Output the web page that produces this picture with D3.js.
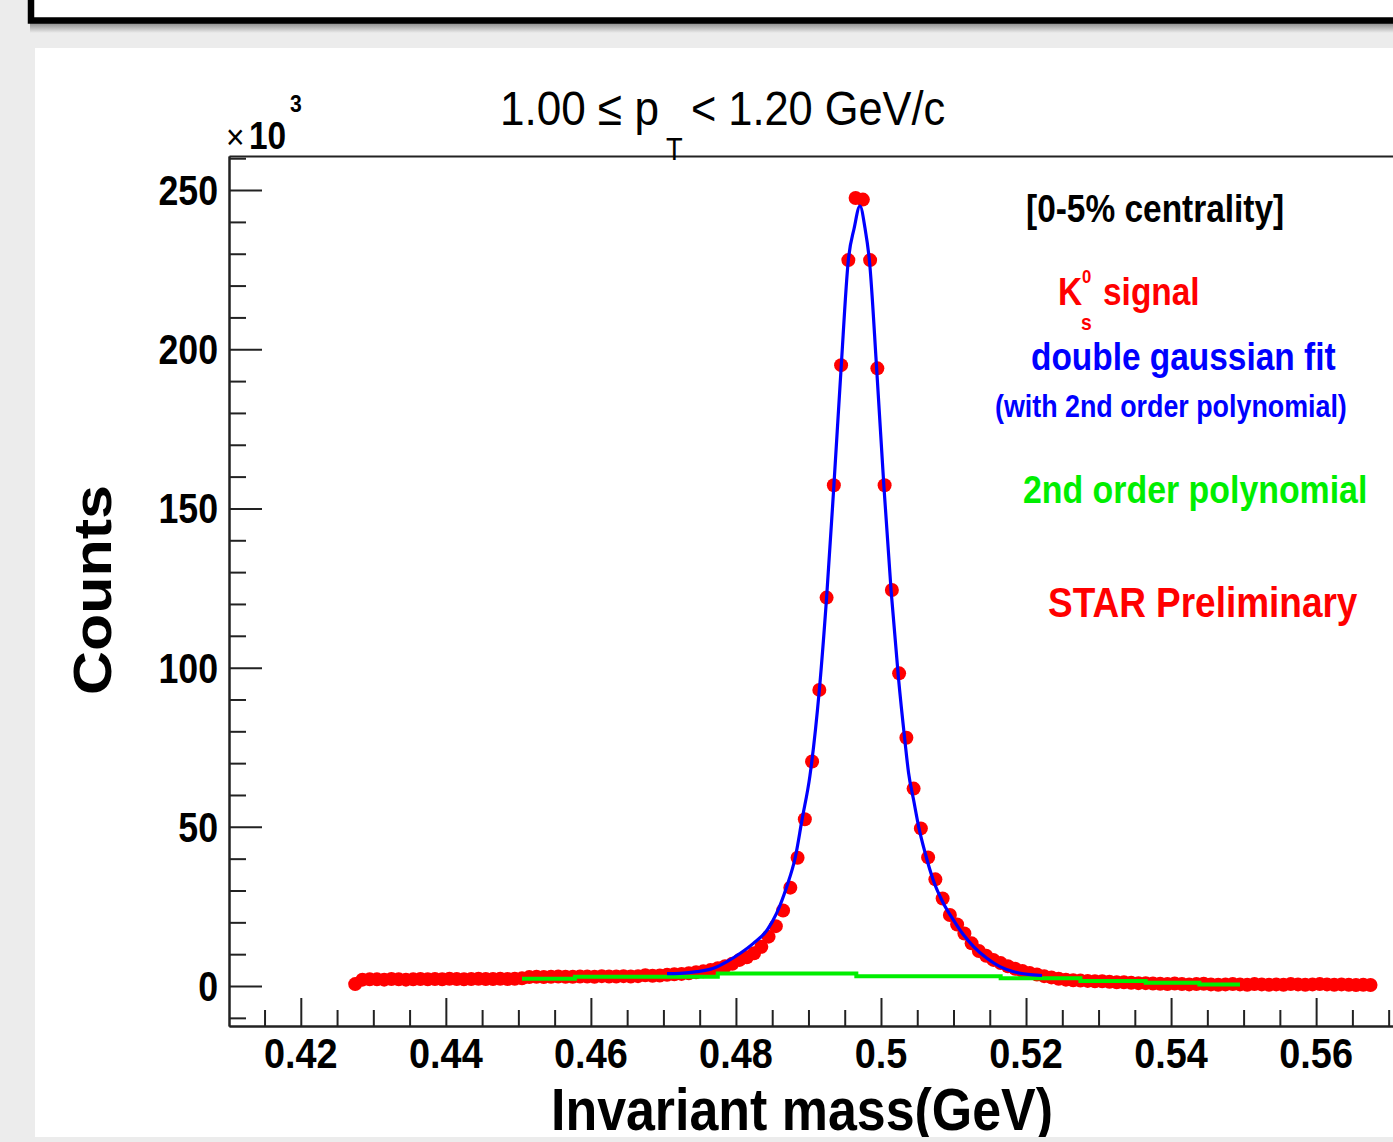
<!DOCTYPE html>
<html><head><meta charset="utf-8">
<script src="https://cdn.jsdelivr.net/npm/d3@7"></script>
<style>html,body{margin:0;padding:0;background:#ececec;overflow:hidden}</style>
</head><body>
<svg id="c" width="1393" height="1142"></svg>
<script>
// ---------------- data (counts in units of 10^3) ----------------
const binStart = 0.4275;   // centre of first histogram bin (GeV)
const binWidth = 0.001;    // GeV
const counts = [
  0.6,
  2.0, 2.1, 2.1, 2.0, 2.2, 2.1, 2.0, 2.1, 2.2, 2.1, 2.2, 2.1, 2.3, 2.2, 2.1, 2.2, 2.3, 2.2, 2.2, 2.3, 2.2, 2.3, 2.4,
  2.8, 2.9, 2.8, 2.9, 3.0, 2.9, 2.9, 3.0, 3.0, 2.9, 3.1, 3.0, 3.0, 3.1, 3.0, 3.1, 3.4, 3.2, 3.3,
  3.5, 3.7, 3.8, 4.0, 4.3, 4.6, 5.0, 5.6, 6.2, 7.0, 8.2, 9.0, 10.3, 12.3, 15.5, 18.8, 23.7, 30.9, 40.3, 52.4,
  70.5, 93.0, 122.0, 157.3, 195.0, 228.0, 247.5, 247.0, 228.0, 194.0, 157.3, 124.4, 98.2, 78.0, 62.0, 49.5,
  40.4, 33.5, 27.5, 22.3, 19.3, 16.5, 13.4, 11.0, 9.5, 8.2, 7.2, 6.2, 5.4, 4.7, 4.1, 3.6, 3.1, 2.7, 2.3,
  2.0, 1.8, 1.7,
  1.6, 1.5, 1.5, 1.3, 1.2, 1.2, 1.0, 0.9, 0.9, 0.8,
  0.7, 0.6, 0.8, 0.6, 0.5, 0.6, 0.7, 0.5, 0.4, 0.5, 0.6, 0.5, 0.4, 0.6, 0.5, 0.4, 0.5, 0.4, 0.6, 0.5,
  0.4, 0.5, 0.6, 0.5, 0.4, 0.5, 0.4, 0.3, 0.4, 0.3
];
// double gaussian fit
const fitMass = [0.4705, 0.4723, 0.4746, 0.4769, 0.4787, 0.4806, 0.4824, 0.4843, 0.4856, 0.4870, 0.4882, 0.4891,
  0.4902, 0.4915, 0.4925, 0.4935, 0.4945, 0.4955, 0.4963, 0.4971, 0.4978, 0.4984, 0.4994, 0.5004, 0.5014,
  0.5024, 0.5033, 0.5038, 0.5045, 0.5052, 0.5061, 0.5072, 0.5086, 0.5100, 0.5114, 0.5128, 0.5146, 0.5164,
  0.5183, 0.5210, 0.5222];
const fitCounts = [3.9, 4.0, 4.5, 5.6, 7.6, 10.3, 13.4, 17.6, 22.8, 31.2, 40.6, 52.1,
  66.0, 93.0, 122.0, 157.0, 194.0, 228.0, 238.0, 245.0, 238.0, 228.0, 194.0, 157.0, 124.0,
  97.0, 77.0, 67.0, 58.4, 50.0, 41.7, 33.3, 26.0, 20.7, 16.0, 12.3, 8.7, 6.1,
  4.5, 3.5, 3.3];
// 2nd order polynomial background (as drawn, pixel-stepped)
const bkgMass = [0.4505, 0.4578, 0.4775, 0.4966, 0.5165, 0.5275, 0.5365, 0.5439, 0.5495];
const bkgCounts = [2.3, 2.9, 3.9, 3.1, 2.4, 1.6, 1.0, 0.5, 0.5];

const xMajorTicks = [0.42, 0.44, 0.46, 0.48, 0.50, 0.52, 0.54, 0.56];
const xTickLabels = ["0.42", "0.44", "0.46", "0.48", "0.5", "0.52", "0.54", "0.56"];
const xMinorTicks = [0.415, 0.425, 0.43, 0.435, 0.445, 0.45, 0.455, 0.465, 0.47, 0.475, 0.485, 0.49, 0.495,
  0.505, 0.51, 0.515, 0.525, 0.53, 0.535, 0.545, 0.55, 0.555, 0.565, 0.57];
const yMajorTicks = [0, 50, 100, 150, 200, 250];
const yTickLabels = ["0", "50", "100", "150", "200", "250"];
const yMinorTicks = [-10, 10, 20, 30, 40, 60, 70, 80, 90, 110, 120, 130, 140, 160, 170, 180, 190,
  210, 220, 230, 240, 260];

// ---------------- drawing ----------------
const svg = d3.select("#c");
const SX = 0.88; // horizontal squeeze of glyphs in the original picture
const FONT = "'Liberation Sans', Arial, Helvetica, sans-serif";

// background & panels
svg.append("rect").attr("x", 0).attr("y", 0).attr("width", 1393).attr("height", 1142).attr("fill", "#ececec");
const defs = svg.append("defs");
const grad = defs.append("linearGradient").attr("id", "shadow").attr("x1", 0).attr("y1", 0).attr("x2", 0).attr("y2", 1);
grad.append("stop").attr("offset", "0%").attr("stop-color", "#8c8c8c");
grad.append("stop").attr("offset", "100%").attr("stop-color", "#ececec");
svg.append("rect").attr("x", 30).attr("y", 23).attr("width", 1370).attr("height", 10).attr("fill", "url(#shadow)");
svg.append("rect").attr("x", 31).attr("y", -20).attr("width", 1400).attr("height", 40.5)
  .attr("fill", "#ffffff").attr("stroke", "#000").attr("stroke-width", 6.5);
svg.append("rect").attr("x", 35).attr("y", 48).attr("width", 1400).attr("height", 1089).attr("fill", "#ffffff");

const x = d3.scaleLinear().domain([0.4101, 0.5706]).range([229, 1393]);
const y = d3.scaleLinear().domain([-12.56, 260.7]).range([1026, 156]);

function styleAxis(g) {
  g.selectAll("path,line").attr("stroke", "#222").attr("stroke-width", 2);
  g.selectAll("text").remove();
}
// x axis
svg.append("g").attr("transform", "translate(0,1026)")
  .call(d3.axisBottom(x).tickValues(xMinorTicks).tickSize(-16).tickSizeOuter(0).tickFormat(""))
  .call(styleAxis);
svg.append("g").attr("transform", "translate(0,1026)")
  .call(d3.axisBottom(x).tickValues(xMajorTicks).tickSize(-28).tickSizeOuter(0).tickFormat(""))
  .call(styleAxis);
// top frame line
svg.append("g").attr("transform", "translate(0,156)")
  .call(d3.axisTop(x).tickValues([]).tickSizeOuter(0))
  .call(styleAxis);
// y axis
svg.append("g").attr("transform", "translate(229,0)")
  .call(d3.axisLeft(y).tickValues(yMinorTicks).tickSize(-17).tickSizeOuter(0).tickFormat(""))
  .call(styleAxis);
svg.append("g").attr("transform", "translate(229,0)")
  .call(d3.axisLeft(y).tickValues(yMajorTicks).tickSize(-33).tickSizeOuter(0).tickFormat(""))
  .call(styleAxis);

function label(px, py, str, o) {
  const g = svg.append("g").attr("transform",
    `translate(${px},${py})` + (o.rotate ? ` rotate(${o.rotate}) scale(1,${SX})` : ` scale(${o.sx || SX},1)`));
  return g.append("text").attr("x", 0).attr("y", 0)
    .attr("font-family", FONT).attr("font-size", o.size)
    .attr("font-weight", o.weight || "bold").attr("fill", o.fill || "#000")
    .attr("text-anchor", o.anchor || "start").text(str);
}

// tick labels
xMajorTicks.forEach((v, i) => label(x(v), 1068, xTickLabels[i], {size: 43, anchor: "middle"}));
yMajorTicks.forEach((v, i) => label(218, y(v) + 15, yTickLabels[i], {size: 42, anchor: "end", sx: 0.85}));

// exponent
label(226, 149, "×", {size: 36, weight: "normal"});
label(249, 149, "10", {size: 38});
label(290, 112, "3", {size: 24});

// axis titles
label(802, 1130, "Invariant mass(GeV)", {size: 59, anchor: "middle"});
label(111, 590, "Counts", {size: 61, anchor: "middle", rotate: -90});

// plot title
label(500, 125, "1.00 ≤ p", {size: 49, weight: "normal", sx: 0.9});
label(666, 160, "T", {size: 31, weight: "normal"});
label(691, 125, "< 1.20 GeV/c", {size: 49, weight: "normal", sx: 0.885});

// ---- histogram points ----
const pts = counts.map((c, i) => ({m: binStart + i * binWidth, c}));
svg.append("g").selectAll("circle").data(pts).join("circle")
  .attr("cx", d => x(d.m)).attr("cy", d => y(d.c)).attr("r", 7).attr("fill", "#ff0000");

// ---- background polynomial ----
const bkg = bkgMass.map((m, i) => [m, bkgCounts[i]]);
svg.append("path").datum(bkg)
  .attr("d", d3.line().x(d => x(d[0])).y(d => y(d[1])).curve(d3.curveStepAfter))
  .attr("fill", "none").attr("stroke", "#00ee00").attr("stroke-width", 4);

// ---- fit ----
const fit = fitMass.map((m, i) => [m, fitCounts[i]]);
svg.append("path").datum(fit)
  .attr("d", d3.line().x(d => x(d[0])).y(d => y(d[1])).curve(d3.curveMonotoneX))
  .attr("fill", "none").attr("stroke", "#0000ff").attr("stroke-width", 3.2);

// ---- legend texts ----
label(1026, 222, "[0-5% centrality]", {size: 38});
label(1058, 305, "K", {size: 38, fill: "#ff0000"});
label(1082, 283, "0", {size: 19, fill: "#ff0000"});
label(1081, 330, "s", {size: 22, fill: "#ff0000"});
label(1103, 305, "signal", {size: 38, fill: "#ff0000"});
label(1031, 370, "double gaussian fit", {size: 38, fill: "#0000ff"});
label(995, 417, "(with 2nd order polynomial)", {size: 30.5, fill: "#0000ff"});
label(1023, 503, "2nd order polynomial", {size: 38.5, fill: "#00ee00"});
label(1048, 617, "STAR Preliminary", {size: 42, fill: "#ff0000"});

// bottom strip of page background
svg.append("rect").attr("x", 0).attr("y", 1137).attr("width", 1393).attr("height", 5).attr("fill", "#ececec");
</script>
</body></html>
